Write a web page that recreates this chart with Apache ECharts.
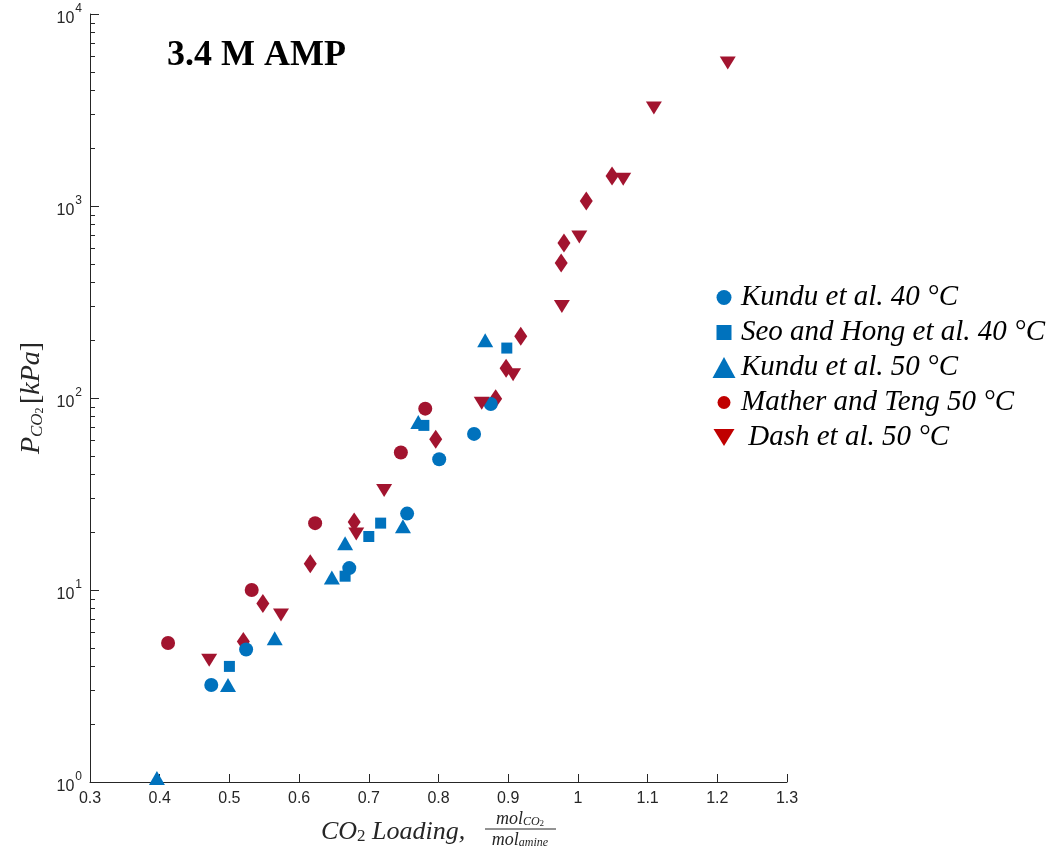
<!DOCTYPE html>
<html>
<head>
<meta charset="utf-8">
<script src="https://cdn.jsdelivr.net/npm/echarts@6/dist/echarts.min.js"></script>
<style>
  html, body { margin: 0; padding: 0; background: #fff; }
  #chart { width: 1050px; height: 852px; }
</style>
</head>
<body>
<div id="chart"></div>
<script>
// CO2 loading (mol CO2 / mol amine) vs partial pressure (kPa)
const kundu40 = [[0.474, 3.2], [0.524, 4.9], [0.672, 13], [0.755, 25], [0.801, 48], [0.851, 65], [0.875, 93]]
const seoHong40 = [[0.50, 4.0], [0.666, 11.8], [0.70, 19], [0.717, 22.3], [0.779, 72], [0.898, 182]]
const kundu50 = [[0.396, 1.05], [0.498, 3.2], [0.565, 5.6], [0.647, 11.6], [0.666, 17.5], [0.749, 21.5], [0.771, 75], [0.867, 200]]
const mather50 = [[0.412, 5.3], [0.532, 10], [0.623, 22.3], [0.746, 52], [0.781, 88]]
const dash50 = [[0.471, 4.3], [0.574, 7.4], [0.682, 19.6], [0.722, 33], [0.862, 94], [0.907, 132], [0.977, 300],
  [1.002, 690], [1.065, 1380], [1.109, 3240], [1.215, 5560]]
// red diamonds (no legend entry)
const diamonds = [[0.520, 5.4], [0.548, 8.5], [0.616, 13.7], [0.679, 22.6], [0.796, 61], [0.882, 99], [0.897, 143],
  [0.918, 210], [0.976, 505], [0.980, 642], [1.012, 1062], [1.049, 1433]]

const yMinorTicks = [2, 3, 4, 5, 6, 7, 8, 9, 20, 30, 40, 50, 60, 70, 80, 90,
  200, 300, 400, 500, 600, 700, 800, 900, 2000, 3000, 4000, 5000, 6000, 7000, 8000, 9000]

const BLUE = '#0072BD'
const RED = '#A2142F'
const LEG_RED = '#C00000'
const AXIS = '#262626'
const SERIF = '"Liberation Serif", "DejaVu Serif", serif'
const SANS = '"Liberation Sans", Arial, sans-serif'

const chart = echarts.init(document.getElementById('chart'), null, { renderer: 'canvas' })

const option = {
  animation: false,
  title: {
    text: '3.4 M AMP',
    left: 162,
    top: 33,
    textStyle: { fontFamily: SERIF, fontWeight: 'bold', fontSize: 36, color: '#000' },
  },
  legend: {
    orient: 'vertical',
    left: 712,
    top: 283,
    padding: 0,
    itemWidth: 24,
    itemHeight: 22,
    itemGap: 6,
    selectedMode: false,
    textStyle: { fontFamily: SERIF, fontStyle: 'italic', fontSize: 29, color: '#000' },
    data: [
      { name: 'Kundu et al. 40 °C', icon: 'path://M0,0M24,22M4.5,11a7.5,7.5 0 1,0 15,0a7.5,7.5 0 1,0 -15,0', itemStyle: { color: BLUE } },
      { name: 'Seo and Hong et al. 40 °C', icon: 'path://M0,0M24,22M4.5,3.5h15v15h-15z', itemStyle: { color: BLUE } },
      { name: 'Kundu et al. 50 °C', icon: 'path://M0,0M24,22M0.5,21.5L12,0.5L23.5,21.5z', itemStyle: { color: BLUE } },
      { name: 'Mather and Teng 50 °C', icon: 'path://M0,0M24,22M5.5,11a6.5,6.5 0 1,0 13,0a6.5,6.5 0 1,0 -13,0', itemStyle: { color: LEG_RED } },
      { name: ' Dash et al. 50 °C', icon: 'path://M0,0M24,22M1.5,2.5L22.5,2.5L12,19.5z', itemStyle: { color: LEG_RED } },
    ],
  },
  grid: { left: 90, right: 263, top: 14, bottom: 70 },
  xAxis: {
    type: 'value',
    min: 0.3,
    max: 1.3,
    interval: 0.1,
    axisLine: { lineStyle: { color: AXIS, width: 1 } },
    axisTick: { inside: true, length: 8, lineStyle: { color: AXIS } },
    axisLabel: { color: AXIS, fontFamily: SANS, fontSize: 16, margin: 9 },
    splitLine: { show: false },
  },
  yAxis: [
    {
      type: 'log',
      logBase: 10,
      min: 1,
      max: 10000,
      name: '{p|P}{s|CO}{ss|2} {b|[}{p|kPa}{b|]}',
      nameLocation: 'middle',
      nameGap: 43,
      nameRotate: 90,
      nameTextStyle: {
        rich: {
          p: { fontFamily: SERIF, fontStyle: 'italic', fontSize: 28, color: AXIS },
          b: { fontFamily: SERIF, fontSize: 28, color: AXIS },
          s: { fontFamily: SERIF, fontStyle: 'italic', fontSize: 17, color: AXIS, verticalAlign: 'bottom' },
          ss: { fontFamily: SERIF, fontSize: 12, color: AXIS, verticalAlign: 'bottom', padding: [6, 0, 0, 0] },
        },
      },
      axisLine: { show: true, lineStyle: { color: AXIS, width: 1 } },
      axisTick: { inside: true, length: 9, lineStyle: { color: AXIS } },
      axisLabel: {
        margin: 8,
        formatter: v => '{b|10}{sup|' + Math.round(Math.log10(v)) + '}',
        rich: {
          b: { fontFamily: SANS, fontSize: 16, color: AXIS, padding: [10, 0, 0, 0] },
          sup: { fontFamily: SANS, fontSize: 12, color: AXIS, padding: [0, 0, 10, 1] },
        },
      },
      splitLine: { show: false },
    },
    {
      // minor ticks only
      type: 'log',
      logBase: 10,
      min: 1,
      max: 10000,
      position: 'left',
      axisLine: { show: false },
      axisLabel: { show: false },
      splitLine: { show: false },
      axisTick: { show: true, inside: true, length: 5, customValues: yMinorTicks, lineStyle: { color: AXIS } },
    },
  ],
  graphic: [
    {
      type: 'text',
      x: 321,
      y: 832,
      style: {
        text: '{i|CO}{s|2}{i| Loading,}',
        verticalAlign: 'middle',
        rich: {
          i: { fontFamily: SERIF, fontStyle: 'italic', fontSize: 26, fill: AXIS },
          s: { fontFamily: SERIF, fontSize: 17, fill: AXIS, verticalAlign: 'bottom', padding: [8, 0, 0, 0] },
        },
      },
    },
    {
      type: 'text',
      x: 520,
      y: 819,
      style: {
        text: '{i|mol}{s|CO}{ss|2}',
        align: 'center',
        verticalAlign: 'middle',
        rich: {
          i: { fontFamily: SERIF, fontStyle: 'italic', fontSize: 18, fill: AXIS },
          s: { fontFamily: SERIF, fontStyle: 'italic', fontSize: 12, fill: AXIS, verticalAlign: 'bottom', padding: [5, 0, 0, 0] },
          ss: { fontFamily: SERIF, fontSize: 9, fill: AXIS, verticalAlign: 'bottom', padding: [8, 0, 0, 0] },
        },
      },
    },
    {
      type: 'line',
      shape: { x1: 485, y1: 829, x2: 556, y2: 829 },
      style: { stroke: AXIS, lineWidth: 1 },
    },
    {
      type: 'text',
      x: 520,
      y: 840,
      style: {
        text: '{i|mol}{s|amine}',
        align: 'center',
        verticalAlign: 'middle',
        rich: {
          i: { fontFamily: SERIF, fontStyle: 'italic', fontSize: 18, fill: AXIS },
          s: { fontFamily: SERIF, fontStyle: 'italic', fontSize: 12, fill: AXIS, verticalAlign: 'bottom', padding: [5, 0, 0, 0] },
        },
      },
    },
  ],
  series: [
    {
      name: 'Other 50 °C', type: 'scatter', data: diamonds,
      symbol: 'diamond', symbolSize: [13, 19], itemStyle: { color: RED, opacity: 1 },
    },
    {
      name: 'Kundu et al. 40 °C', type: 'scatter', data: kundu40,
      symbol: 'circle', symbolSize: 14, itemStyle: { color: BLUE, opacity: 1 },
    },
    {
      name: 'Seo and Hong et al. 40 °C', type: 'scatter', data: seoHong40,
      symbol: 'rect', symbolSize: 11, itemStyle: { color: BLUE, opacity: 1 },
    },
    {
      name: 'Kundu et al. 50 °C', type: 'scatter', data: kundu50,
      symbol: 'triangle', symbolSize: [16, 14], itemStyle: { color: BLUE, opacity: 1 },
    },
    {
      name: 'Mather and Teng 50 °C', type: 'scatter', data: mather50,
      symbol: 'circle', symbolSize: 14, itemStyle: { color: RED, opacity: 1 },
    },
    {
      name: ' Dash et al. 50 °C', type: 'scatter', data: dash50,
      symbol: 'path://M0,0L20,0L10,16z', symbolSize: [16, 13], itemStyle: { color: RED, opacity: 1 },
    },
  ],
}

chart.setOption(option)
window.addEventListener('resize', () => chart.resize())
</script>
</body>
</html>
